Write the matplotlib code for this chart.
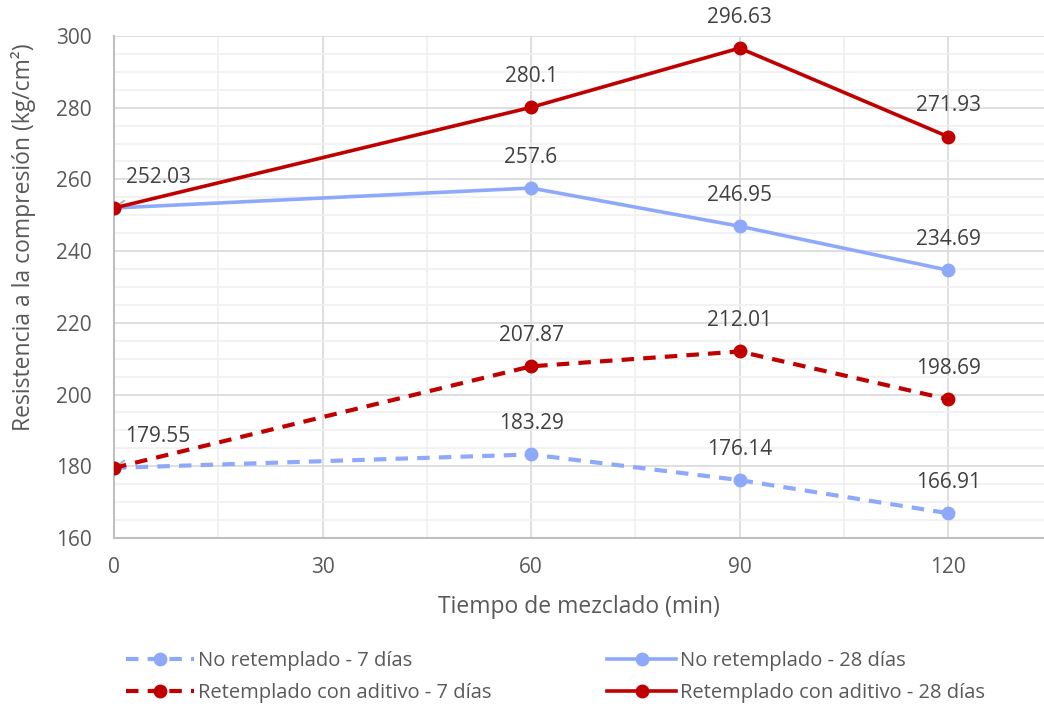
import matplotlib.pyplot as plt
import numpy as np

tiempo = [0, 60, 90, 120]
no_ret_7 = [179.55, 183.29, 176.14, 166.91]
no_ret_28 = [252.03, 257.6, 246.95, 234.69]
ret_7 = [179.55, 207.87, 212.01, 198.69]
ret_28 = [252.03, 280.1, 296.63, 271.93]

azul = '#8EA9FA'
rojo = '#C00000'
gris_txt = '#595959'

plt.rcParams['font.family'] = ['Open Sans', 'DejaVu Sans']

fig = plt.figure(figsize=(10.44, 7.06), dpi=100)
ax = fig.add_axes([0.1092, 0.238, 0.8908, 0.711])

l1, = ax.plot(tiempo, no_ret_7, color=azul, lw=3, ls=(0, (3, 2.2)), marker='o', ms=9,
              label='No retemplado - 7 días', zorder=3)
l2, = ax.plot(tiempo, no_ret_28, color=azul, lw=2.6, marker='o', ms=9,
              label='No retemplado - 28 días', zorder=3)
l3, = ax.plot(tiempo, ret_7, color=rojo, lw=3, ls=(0, (3, 2.2)), marker='o', ms=9,
              label='Retemplado con aditivo - 7 días', zorder=4)
l4, = ax.plot(tiempo, ret_28, color=rojo, lw=2.6, marker='o', ms=9,
              label='Retemplado con aditivo - 28 días', zorder=4)

# etiquetas de datos
for serie in [no_ret_7, no_ret_28, ret_7, ret_28]:
    for x, y in zip(tiempo[1:], serie[1:]):
        ax.annotate(f'{y:g}', (x, y), xytext=(0, 31), textcoords='offset pixels',
                    ha='center', va='center', fontsize=15, color='#404040')
for y in [ret_28[0], ret_7[0]]:
    ax.annotate(f'{y:g}', (0, y), xytext=(44, 31), textcoords='offset pixels',
                ha='center', va='center', fontsize=15, color='#404040',
                arrowprops=dict(arrowstyle='-', color='#A6A6A6', lw=1.2,
                                shrinkA=13, shrinkB=0))

ax.set_xlim(0, 133.8)
ax.set_ylim(160, 300)
ax.set_xticks([0, 30, 60, 90, 120])
ax.set_xticks(np.arange(15, 134, 30), minor=True)
ax.set_yticks(np.arange(160, 301, 20))
ax.set_yticks(np.arange(165, 300, 5), minor=True)
ax.grid(which='major', color='#D9D9D9', lw=1.2)
ax.grid(which='minor', color='#F0F0F0', lw=1.2)
ax.set_axisbelow(True)
ax.tick_params(which='both', length=0, labelsize=15, labelcolor=gris_txt)
ax.tick_params(axis='x', pad=14)
ax.tick_params(axis='y', pad=16)
for s in ['top', 'right']:
    ax.spines[s].set_visible(False)
for s in ['left', 'bottom']:
    ax.spines[s].set_color('#BFBFBF')
    ax.spines[s].set_linewidth(1.5)

ax.set_xlabel('Tiempo de mezclado (min)', fontsize=16.5, color=gris_txt, labelpad=12)
ax.set_ylabel('Resistencia a la compresión (kg/cm²)', fontsize=16.5, color=gris_txt)
ax.yaxis.set_label_coords(-0.084, 0.60)

fig.legend([l1, l3, l2, l4], [l.get_label() for l in [l1, l3, l2, l4]],
           loc='lower left', bbox_to_anchor=(0.103, -0.022), ncol=2, frameon=False,
           fontsize=14.5, labelcolor=gris_txt, handlelength=3.4, handletextpad=0.2,
           columnspacing=5.75, labelspacing=0.62)

fig.savefig('out.png', dpi=100)
